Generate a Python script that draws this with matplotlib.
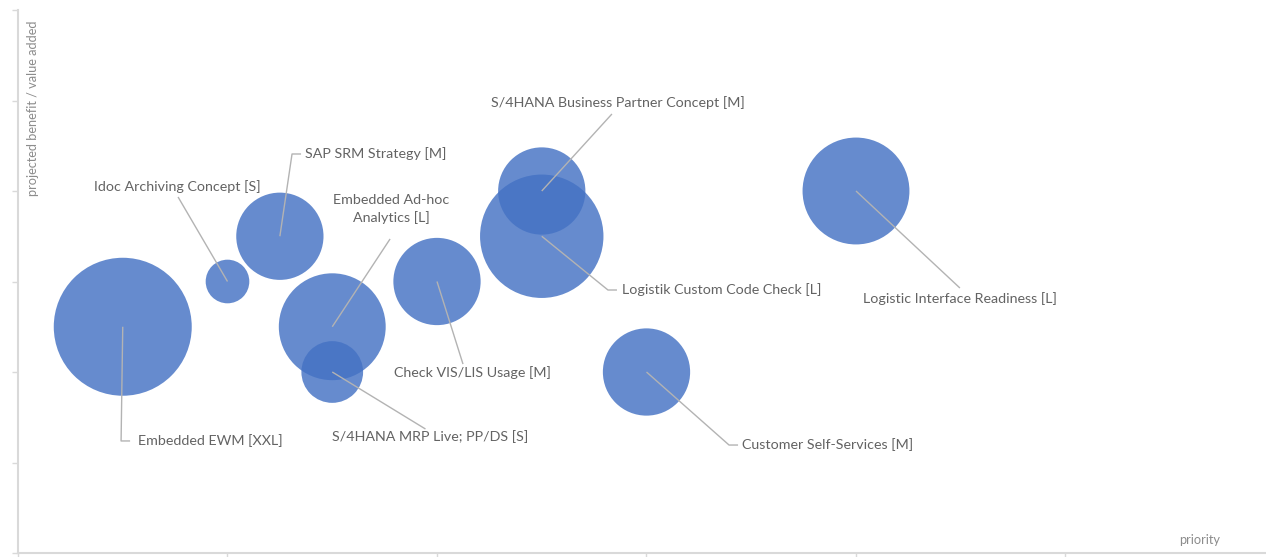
import matplotlib.pyplot as plt
import numpy as np

# Daten: Prioritaet (x), Nutzen (y), Aufwand (Blasengroesse)
projekte = ["Embedded EWM [XXL]", "Idoc Archiving Concept [S]", "SAP SRM Strategy [M]",
            "Embedded Ad-hoc\nAnalytics [L]", "S/4HANA MRP Live; PP/DS [S]", "Check VIS/LIS Usage [M]",
            "Logistik Custom Code Check [L]", "S/4HANA Business Partner Concept [M]",
            "Customer Self-Services [M]", "Logistic Interface Readiness [L]"]
prioritaet = [0.5, 1.0, 1.25, 1.5, 1.5, 2.0, 2.5, 2.5, 3.0, 4.0]
nutzen = [2.5, 3.0, 3.5, 2.5, 2.0, 3.0, 3.5, 4.0, 2.0, 4.0]
aufwand = [10, 1, 4, 6, 2, 4, 8, 4, 4, 6]

PX_X = 209.5  # Pixel pro x-Einheit
PX_Y = 90.5   # Pixel pro y-Einheit

# Beschriftungen: Textposition (Daten), Ausrichtung, Linienende
beschriftung = [
    ((0.573, 1.238), "left", (0.535, 1.238)),
    ((0.759, 4.055), "center", (0.764, 3.934)),
    ((1.370, 4.409), "left", (1.351, 4.409)),
    ((1.780, 3.800), "center", (1.776, 3.470)),
    ((1.967, 1.282), "center", (1.945, 1.370)),
    ((2.167, 1.989), "center", (2.124, 2.088)),
    ((2.883, 2.906), "left", (2.859, 2.906)),
    ((2.864, 4.983), "center", (2.835, 4.851)),
    ((3.456, 1.193), "left", (3.437, 1.193)),
    ((4.496, 2.807), "center", (4.496, 2.928)),
]


def main():
    fig = plt.figure(figsize=(12.66, 5.57), dpi=100)
    ax = fig.add_axes([18 / 1266, 4 / 557, 1248 / 1266, 543 / 557])

    # Flaeche proportional zum Aufwand
    s = [987.0 * a for a in aufwand]
    ax.scatter(prioritaet, nutzen, s=s, color="#4472C4", alpha=0.82,
               edgecolors="none", zorder=2)

    for tekst, b, x, y in zip(projekte, beschriftung, prioritaet, nutzen):
        (tx, ty), ha, (ex, ey) = b
        if ha == "left":
            knick = (ex - 9 / PX_X, ey)
            xs = [x, knick[0], ex]
            ys = [y, knick[1], ey]
        else:
            xs = [x, ex]
            ys = [y, ey]
        ax.plot(xs, ys, color="#b3b3b3", lw=1.0, zorder=3, solid_capstyle="butt")
        ax.text(tx, ty, tekst, ha=ha, va="center", fontsize=10.3, family="Lato",
                color="#636363", linespacing=1.45, zorder=4)

    ax.set_xlim(0, 1248 / PX_X)
    ax.set_ylim(0, 6)
    ax.set_xticks(np.arange(0, 6, 1))
    ax.set_yticks(np.arange(0, 7, 1))
    ax.set_xticklabels([])
    ax.set_yticklabels([])
    ax.tick_params(axis="both", direction="out", length=4, width=1, color="#d9d9d9")
    for side in ["top", "right"]:
        ax.spines[side].set_visible(False)
    for side in ["left", "bottom"]:
        ax.spines[side].set_color("#d9d9d9")
        ax.spines[side].set_linewidth(1.5)

    fig.text(33 / 1266, 1 - 108 / 557, "projected benefit / value added", rotation=90,
             ha="center", va="center", fontsize=9.2, family="Lato", color="#8c8c8c")
    fig.text(1200 / 1266, 1 - 540 / 557, "priority", ha="center", va="center",
             fontsize=9.2, family="Lato", color="#8c8c8c")

    fig.savefig("out.png", dpi=100)


if __name__ == "__main__":
    main()
